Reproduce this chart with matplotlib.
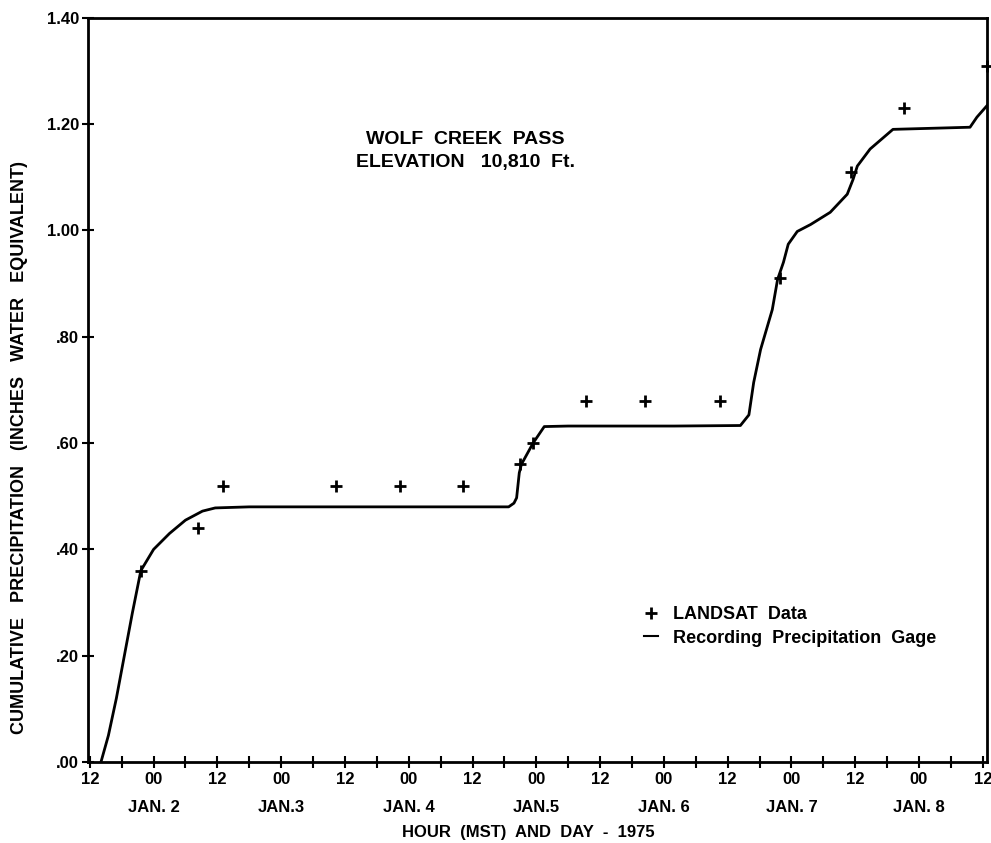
import matplotlib
matplotlib.use("Agg")
import matplotlib.pyplot as plt
from matplotlib.lines import Line2D

plt.rcParams['font.family'] = ['Liberation Sans', 'DejaVu Sans']
plt.rcParams['font.weight'] = 'bold'

# hours after 12:00 Jan 1, 1975 (MST)
gage_hours = [2.1, 3.5, 5.0, 6.5, 8.0, 9.6, 12, 15, 18, 21.2, 23.6, 30, 50, 70, 78.8,
              79.8, 80.3, 80.8, 81.2, 83.4, 85.5, 90, 110, 122.4, 124, 124.9, 126.2,
              128.4, 129.4, 130.5, 131.4, 133.1, 135.6, 139.3, 142.5, 143.6, 144.4,
              146.8, 151.1, 165.6, 166.9, 169]
gage_precip = [0, 0.05, 0.12, 0.20, 0.28, 0.36, 0.40, 0.43, 0.455, 0.472, 0.478, 0.48,
               0.48, 0.48, 0.48, 0.487, 0.497, 0.544, 0.56, 0.60, 0.631, 0.632, 0.632,
               0.633, 0.653, 0.714, 0.776, 0.851, 0.908, 0.94, 0.974, 0.998, 1.011,
               1.034, 1.068, 1.096, 1.121, 1.153, 1.19, 1.194, 1.213, 1.237]

landsat_hours = [9.6, 20.3, 25.1, 46.3, 58.3, 70.3, 81.0, 83.4, 93.4, 104.4, 118.5,
                 129.8, 143.3, 153.2, 168.8]
landsat_precip = [0.36, 0.44, 0.52, 0.52, 0.52, 0.52, 0.56, 0.60, 0.68, 0.68, 0.68,
                  0.91, 1.11, 1.23, 1.31]

yticks = [0, 0.2, 0.4, 0.6, 0.8, 1.0, 1.2, 1.4]
ytick_labels = ['.00', '.20', '.40', '.60', '.80', '1.00', '1.20', '1.40']
hour_ticks = list(range(0, 169, 12))
hour_labels = ['12' if i % 2 == 0 else '00' for i in range(len(hour_ticks))]
day_labels = ['JAN. 2', 'JAN.3', 'JAN. 4', 'JAN.5', 'JAN. 6', 'JAN. 7', 'JAN. 8']
day_ticks = [12, 36, 60, 84, 108, 132, 156]

fig = plt.figure(figsize=(9.91, 8.43), dpi=100)
ax = fig.add_axes([0.089, 0.096, 0.907, 0.883])

ax.plot(gage_hours, gage_precip, color='black', lw=2.0)
ax.plot(landsat_hours, landsat_precip, ls='none', marker='+', color='black',
        markersize=9, mew=2.0, clip_on=False)

ax.set_xlim(-0.3, 168.8)
ax.set_ylim(0, 1.4)
for s in ax.spines.values():
    s.set_linewidth(2.0)

ax.set_yticks(yticks)
ax.set_yticklabels(ytick_labels)
ax.set_xticks(hour_ticks)
ax.set_xticklabels(hour_labels)
ax.set_xticks(range(0, 169, 6), minor=True)
ax.tick_params(axis='both', direction='inout', length=9, width=1.5, labelsize=12, pad=2)
ax.tick_params(axis='x', which='minor', direction='inout', length=8, width=1.5)
ax.tick_params(axis='x', pad=3)

for h, lab in zip(day_ticks, day_labels):
    ax.text(h, -0.0605, lab, ha='center', va='center', fontsize=12,
            transform=ax.get_xaxis_transform())
ax.text(0.49, -0.094, 'HOUR  (MST)  AND  DAY  -  1975', ha='center', va='center',
        fontsize=12, transform=ax.transAxes)
ax.set_ylabel('CUMULATIVE   PRECIPITATION   (INCHES   WATER   EQUIVALENT)',
              fontsize=13, fontweight='bold')
ax.yaxis.set_label_coords(-0.067, 0.422)

ax.text(0.42, 0.8206, 'WOLF  CREEK  PASS\nELEVATION   10,810  Ft.', ha='center',
        va='center', fontsize=14, linespacing=1.45, transform=ax.transAxes)

handles = [Line2D([], [], ls='none', marker='+', color='black', markersize=9, mew=2.0),
           Line2D([], [], color='black', lw=1.5)]
ax.legend(handles, ['LANDSAT  Data', 'Recording  Precipitation  Gage'],
          loc='center left', bbox_to_anchor=(0.6, 0.182), frameon=False,
          handlelength=0.8, handletextpad=0.8, fontsize=13, labelspacing=0.35)

fig.savefig('out.png', dpi=100)
